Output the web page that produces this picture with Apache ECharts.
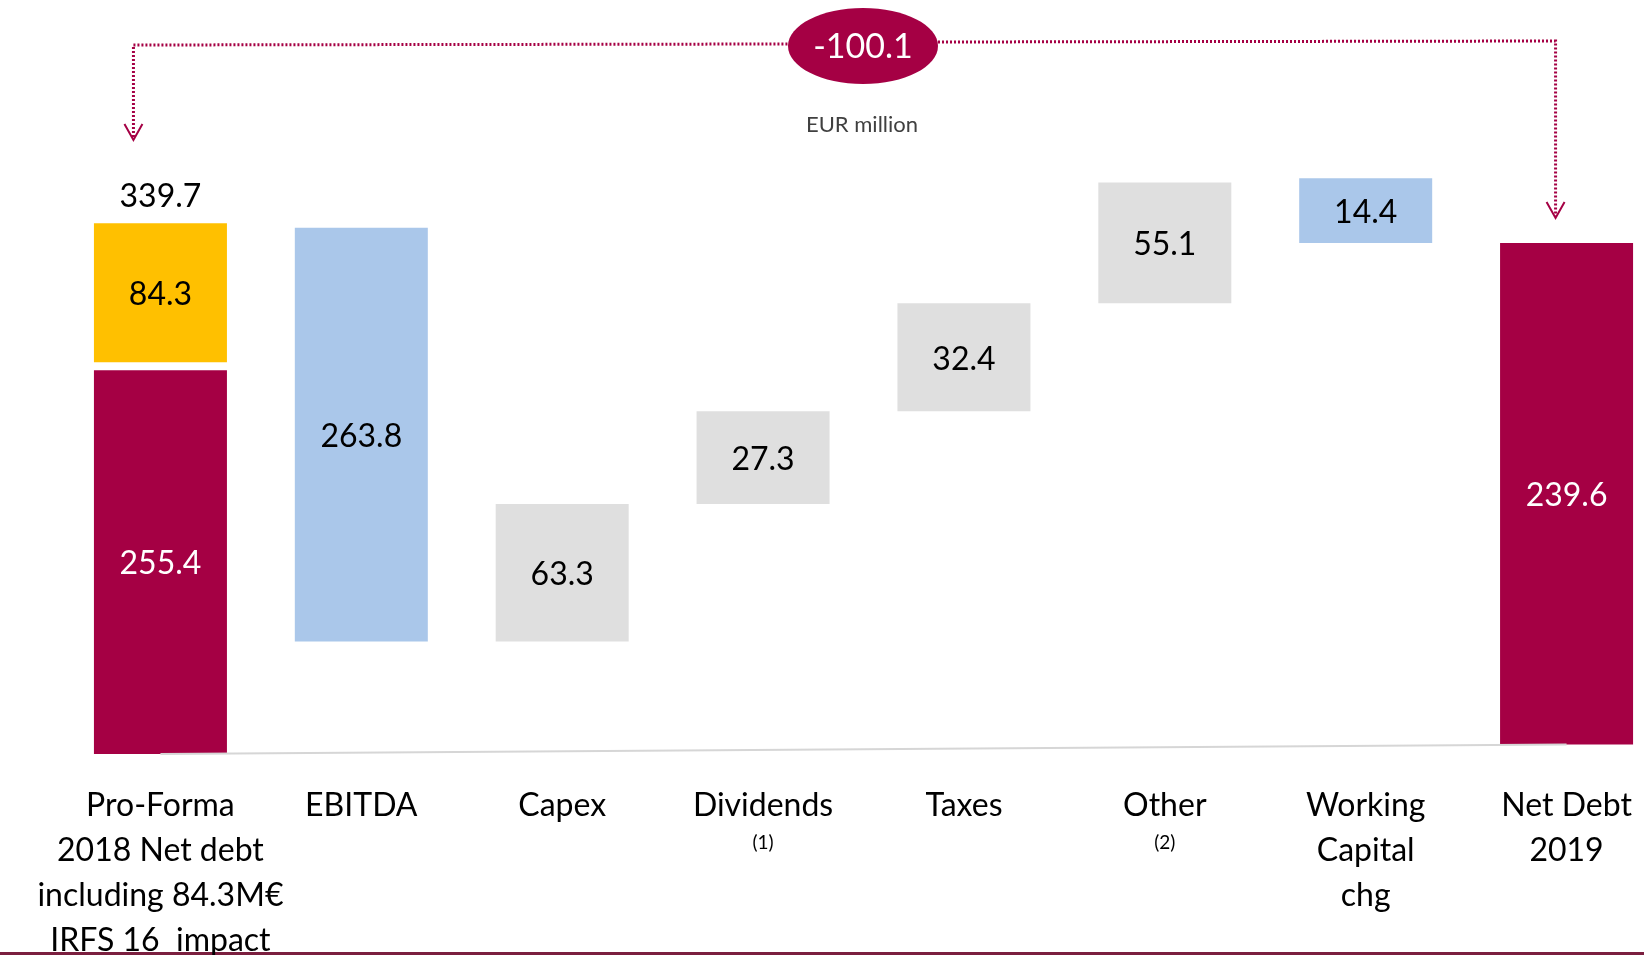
<!DOCTYPE html>
<html>
<head>
<meta charset="utf-8">
<title>Net debt bridge</title>
<script src="https://cdn.jsdelivr.net/npm/echarts@6/dist/echarts.min.js"></script>
<style>
    html, body { margin: 0; padding: 0; background: #fff; }
    #bridge { width: 1644px; height: 955px; }
</style>
</head>
<body>
<div id="bridge"></div>
<script>
// x axis
var categories = ['Pro-Forma\n2018 Net debt\nincluding 84.3M€\nIRFS 16  impact', 'EBITDA', 'Capex', 'Dividends',
    'Taxes', 'Other', 'Working\nCapital\nchg', 'Net Debt\n2019'];
var notes = ['', '', '', '(1)', '', '(2)', '', ''];
// value written on each bar, EUR million
var barLabels = ['255.4', '263.8', '63.3', '27.3', '32.4', '55.1', '14.4', '239.6'];
// bar bottom / top as drawn on the slide (slide is not to scale)
var barLow = [0, 72, 72, 160, 219.4, 288.5, 327, 6.1];
var barHigh = [245.6, 336.8, 160, 219.4, 288.5, 365.7, 368.5, 327];
var barKind = ['debt', 'cash', 'use', 'use', 'use', 'use', 'cash', 'debt'];
// IFRS 16 block on top of the first bar
var ifrsLow = 250.8;
var ifrsHigh = 339.7;
var ifrsLabel = '84.3';
var openingTotal = '339.7';
var netChange = '-100.1';

var MAROON = '#A50044';
var colors = { debt: MAROON, cash: '#AAC7EA', use: '#DFDFDF' };
var FONT = 'Lato';

var bridgeobj = document.getElementById('bridge');
var bridgeChart = echarts.init(bridgeobj);

var bodyData = barHigh.map(function (h, i) {
    return {
        value: +(h - barLow[i]).toFixed(2),
        itemStyle: { color: colors[barKind[i]] },
        label: { color: barKind[i] === 'debt' ? '#fff' : '#000' }
    };
});
var gapData = categories.map(function (c, i) { return i === 0 ? +(ifrsLow - barHigh[0]).toFixed(2) : '-'; });
var ifrsData = categories.map(function (c, i) { return i === 0 ? +(ifrsHigh - ifrsLow).toFixed(2) : '-'; });

var option = {
    animation: false,
    grid: {
        left: 60,
        top: 4,
        width: 1607,
        height: 750,
        containLabel: false,
        outerBoundsMode: 'none'
    },
    xAxis: {
        type: 'category',
        data: categories,
        axisLine: { show: false },
        axisTick: { show: false },
        axisLabel: {
            interval: 0,
            margin: 29,
            color: '#000',
            fontFamily: FONT,
            fontSize: 32,
            lineHeight: 45,
            formatter: function (v, i) {
                return notes[i] ? v + '\n{note|' + notes[i] + '}' : v;
            },
            rich: {
                note: { fontFamily: FONT, fontSize: 19, lineHeight: 30, color: '#000' }
            }
        }
    },
    yAxis: {
        type: 'value',
        min: 0,
        max: 480,
        show: false
    },
    series: [
        {
            name: 'base',
            type: 'bar',
            stack: 'w',
            barWidth: 133,
            silent: true,
            itemStyle: { color: 'transparent' },
            data: barLow,
            markLine: {
                silent: true,
                symbol: 'none',
                label: { show: false },
                lineStyle: { color: '#D6D6D6', width: 2, type: 'solid' },
                data: [[{ coord: [0, 0] }, { coord: [7, barLow[7]] }]]
            },
            markPoint: {
                silent: true,
                symbol: 'circle',
                symbolSize: 1,
                itemStyle: { color: 'transparent' },
                label: {
                    show: true,
                    position: 'top',
                    distance: 10,
                    color: '#000',
                    fontFamily: FONT,
                    fontSize: 32,
                    formatter: openingTotal
                },
                data: [{ coord: [0, ifrsHigh] }]
            }
        },
        {
            name: 'body',
            type: 'bar',
            stack: 'w',
            barWidth: 133,
            data: bodyData,
            label: {
                show: true,
                position: 'inside',
                offset: [0, 2],
                fontFamily: FONT,
                fontSize: 32,
                formatter: function (p) { return barLabels[p.dataIndex]; }
            }
        },
        {
            name: 'gap',
            type: 'bar',
            stack: 'w',
            barWidth: 133,
            silent: true,
            itemStyle: { color: 'transparent' },
            data: gapData
        },
        {
            name: 'IFRS 16',
            type: 'bar',
            stack: 'w',
            barWidth: 133,
            itemStyle: { color: '#FFC000' },
            data: ifrsData,
            label: {
                show: true,
                position: 'inside',
                offset: [0, 2],
                color: '#000',
                fontFamily: FONT,
                fontSize: 32,
                formatter: ifrsLabel
            }
        }
    ]
};

bridgeChart.setOption(option);

// dotted bracket from the opening bar to the closing bar, with the change in the ellipse
var leftX = bridgeChart.convertToPixel({ xAxisIndex: 0 }, 0) - 27;
var rightX = bridgeChart.convertToPixel({ xAxisIndex: 0 }, 7) - 11;
var midX = 863;
var dotted = { stroke: MAROON, lineWidth: 3, lineDash: [2, 2], fill: null };
var arrowStyle = { stroke: MAROON, lineWidth: 2, fill: null };

bridgeChart.setOption({
    graphic: [
        { type: 'polyline', shape: { points: [[leftX, 137], [leftX, 45], [midX - 75, 44]] }, style: dotted },
        { type: 'polyline', shape: { points: [[midX + 75, 42], [rightX, 41], [rightX, 216]] }, style: dotted },
        { type: 'polyline', shape: { points: [[leftX - 9, 124], [leftX, 140], [leftX + 9, 124]] }, style: arrowStyle },
        { type: 'polyline', shape: { points: [[rightX - 9, 202], [rightX, 218], [rightX + 9, 202]] }, style: arrowStyle },
        { type: 'ellipse', shape: { cx: midX, cy: 46, rx: 75, ry: 38 }, style: { fill: MAROON } },
        {
            type: 'text', x: midX, y: 47,
            style: { text: netChange, fill: '#fff', font: '34px ' + FONT, align: 'center', verticalAlign: 'middle' }
        },
        {
            type: 'text', x: 862, y: 125,
            style: { text: 'EUR million', fill: '#404040', font: '22px ' + FONT, align: 'center', verticalAlign: 'middle' }
        },
        { type: 'rect', shape: { x: 0, y: 952, width: 1644, height: 3 }, style: { fill: '#7B1F3F' } }
    ]
});
</script>
</body>
</html>
